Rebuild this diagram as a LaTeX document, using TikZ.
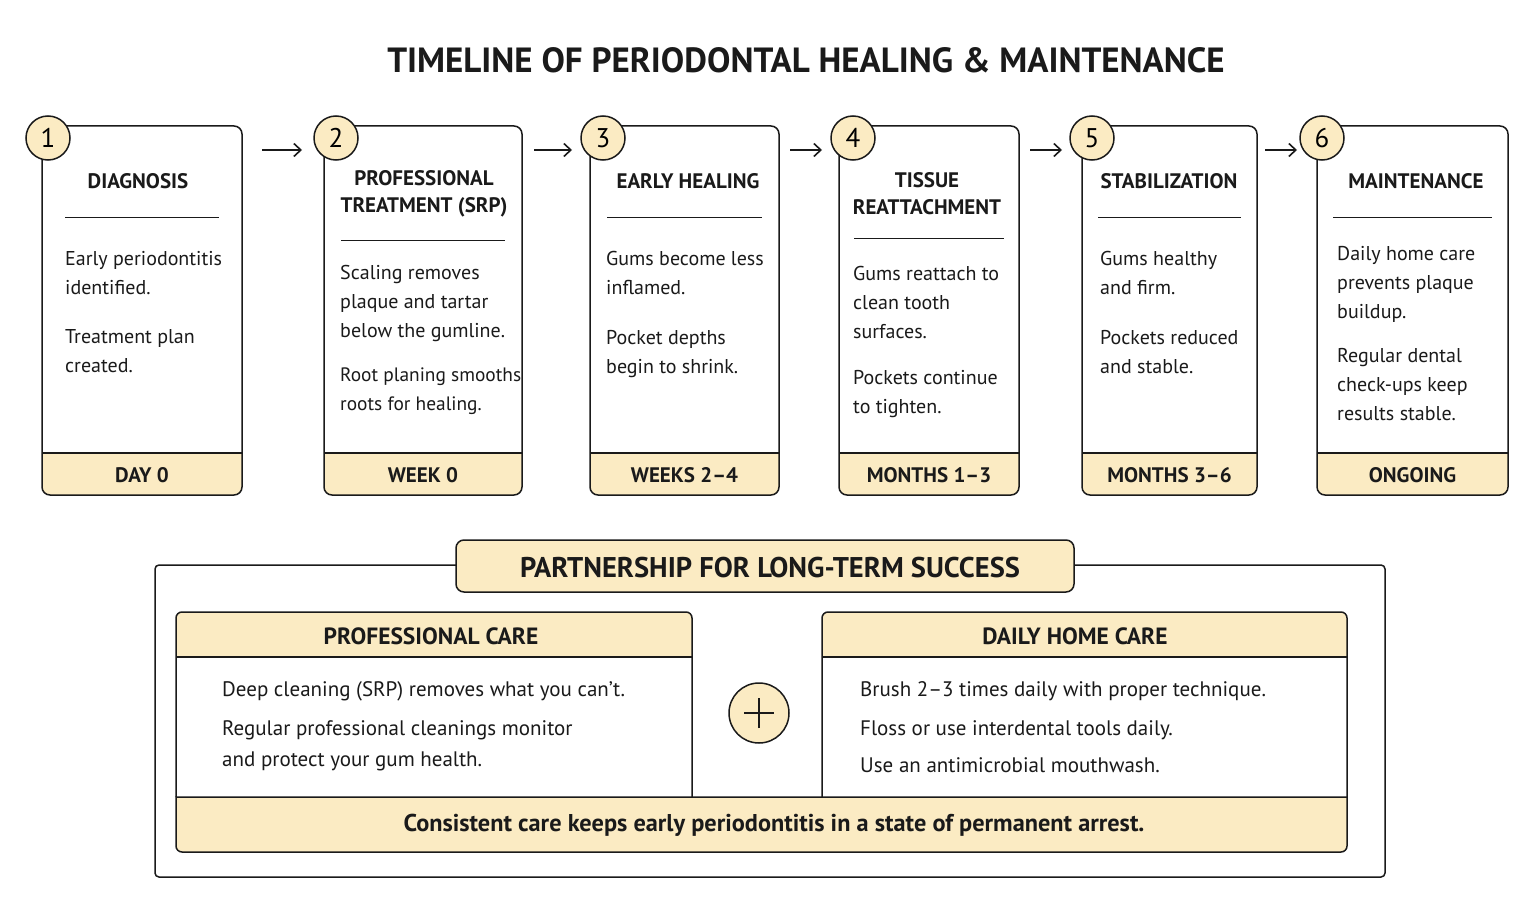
\documentclass[tikz,border=0pt]{standalone}
\usepackage{fontspec}
\usetikzlibrary{arrows.meta}
\setmainfont{PT Sans}
\definecolor{cream}{HTML}{FBEBC3}
\definecolor{ink}{HTML}{1A1A1A}
\begin{document}
\begin{tikzpicture}[x=1pt,y=-1pt,
  box/.style={draw=ink,line width=1.5pt,rounded corners=8},
  hdr/.style={font=\fontsize{21}{27}\selectfont\bfseries,align=center,text=ink},
  phdr/.style={font=\fontsize{23.5}{27}\selectfont\bfseries,text=ink},
  body/.style={font=\fontsize{20}{29}\selectfont,align=left,anchor=north west,text=ink,inner sep=0},
  bbody/.style={font=\fontsize{21}{31}\selectfont,align=left,anchor=north west,text=ink,inner sep=0},
  foot/.style={font=\fontsize{21}{24}\selectfont\bfseries,text=ink},
  num/.style={circle,draw=ink,line width=1.5pt,fill=cream,minimum size=44pt,inner sep=0,font=\fontsize{27}{27}\selectfont},
  arr/.style={-{Straight Barb[length=7pt,width=13pt]},line width=1.6pt,draw=ink}]
\useasboundingbox (0,0) rectangle (1536,923);
\fill[white] (0,0) rectangle (1536,923);
\node[font=\fontsize{35}{38}\selectfont\bfseries,text=ink] (title) at (806,60) {TIMELINE OF PERIODONTAL HEALING \& MAINTENANCE};
\newcommand\mystep[6]{%
  \fill[cream] (#2,453) -- (#3,453) {[rounded corners=8] -- (#3,495) -- (#2,495)} -- cycle;
  \draw[ink,line width=1.5pt] (#2,453) -- (#3,453);
  \draw[box] (#2,126) rectangle (#3,495);
  \node[foot] (#1f) at ({(#2+#3)/2},475) {#4};
  \draw[ink,line width=0.6pt] ({#2+#6},#5) -- ({#3-#6},#5);
}
\mystep{s1}{42}{242}{DAY 0}{217}{23}
\mystep{s2}{324}{522}{WEEK 0}{240}{17}
\mystep{s3}{590}{779}{WEEKS 2–4}{217}{17}
\mystep{s4}{839}{1019}{MONTHS 1–3}{238}{15}
\mystep{s5}{1082}{1257}{MONTHS 3–6}{217}{16}
\mystep{s6}{1317}{1508}{ONGOING}{217}{16}
\node[hdr] (h1) at (138,181) {DIAGNOSIS};
\node[hdr] (h2) at (424,194) {PROFESSIONAL\\TREATMENT (SRP)};
\node[hdr] (h3) at (688,181) {EARLY HEALING};
\node[hdr] (h4) at (927,194) {TISSUE\\REATTACHMENT};
\node[hdr] (h5) at (1169,181) {STABILIZATION};
\node[hdr] (h6) at (1416,181) {MAINTENANCE};
\node[num] (n1) at (48,138) {1};
\node[num] (n2) at (336,138) {2};
\node[num] (n3) at (603,138) {3};
\node[num] (n4) at (853,138) {4};
\node[num] (n5) at (1092,138) {5};
\node[num] (n6) at (1322,138) {6};
\coordinate (a1) at (262,150); \coordinate (b1) at (302,150);
\coordinate (a2) at (534,150); \coordinate (b2) at (572,150);
\coordinate (a3) at (790,150); \coordinate (b3) at (822,150);
\coordinate (a4) at (1030,150); \coordinate (b4) at (1062,150);
\coordinate (a5) at (1265,150); \coordinate (b5) at (1297,150);
\foreach \i in {1,...,5} \draw[arr] (a\i) -- (b\i);
\node[body] (t1a) at (65,251) {Early periodontitis\\identified.};
\node[body] (t1b) at (65,329) {Treatment plan\\created.};
\node[body] (t2a) at (340,265) {Scaling removes\\plaque and tartar\\below the gumline.};
\node[body,font=\fontsize{19.4}{29}\selectfont] (t2b) at (340,368) {Root planing smooths\\roots for healing.};
\node[body] (t3a) at (606,251) {Gums become less\\inflamed.};
\node[body] (t3b) at (606,330) {Pocket depths\\begin to shrink.};
\node[body] (t4a) at (853,266) {Gums reattach to\\clean tooth\\surfaces.};
\node[body] (t4b) at (853,370) {Pockets continue\\to tighten.};
\node[body] (t5a) at (1100,251) {Gums healthy\\and firm.};
\node[body] (t5b) at (1100,330) {Pockets reduced\\and stable.};
\node[body] (t6a) at (1337,246) {Daily home care\\prevents plaque\\buildup.};
\node[body] (t6b) at (1337,348) {Regular dental\\check-ups keep\\results stable.};
% bottom
\draw[ink,line width=1.5pt,rounded corners=4] (155,565) rectangle (1385,877);
\draw[box,fill=cream] (456,540) rectangle (1074,592);
\node[font=\fontsize{28.5}{30}\selectfont\bfseries,text=ink] (pt) at (770,568) {PARTNERSHIP FOR LONG-TERM SUCCESS};
\fill[cream] (176,797) -- (1347,797) {[rounded corners=6] -- (1347,852) -- (176,852)} -- cycle;
\fill[cream] (176,657) {[rounded corners=6] -- (176,612) -- (692,612)} -- (692,657) -- cycle;
\fill[cream] (822,657) {[rounded corners=6] -- (822,612) -- (1347,612)} -- (1347,657) -- cycle;
\draw[ink,line width=1.5pt] (176,797) {[rounded corners=6] -- (176,612) -- (692,612)} -- (692,797);
\draw[ink,line width=1.5pt] (822,797) {[rounded corners=6] -- (822,612) -- (1347,612)} -- (1347,797);
\draw[ink,line width=1.5pt] (176,797) {[rounded corners=6] -- (176,852) -- (1347,852)} -- (1347,797) -- cycle;
\draw[ink,line width=1.5pt] (176,657) -- (692,657);
\draw[ink,line width=1.5pt] (822,657) -- (1347,657);
\node[phdr] (pc) at (431,636) {PROFESSIONAL CARE};
\node[phdr] (hc) at (1075,636) {DAILY HOME CARE};
\node[bbody] (l1) at (222,681) {Deep cleaning (SRP) removes what you can’t.};
\node[bbody] (l2) at (222,720) {Regular professional cleanings monitor\\and protect your gum health.};
\node[bbody] (r1) at (860,681) {Brush 2–3 times daily with proper technique.};
\node[bbody] (r2) at (860,720) {Floss or use interdental tools daily.};
\node[bbody] (r3) at (860,757) {Use an antimicrobial mouthwash.};
\node[circle,draw=ink,line width=1.5pt,fill=cream,minimum size=60pt,inner sep=0] (plus) at (759,713) {};
\draw[ink,line width=2.5pt] ([xshift=-15pt]plus.center) -- ([xshift=15pt]plus.center);
\draw[ink,line width=2.5pt] ([yshift=-15pt]plus.center) -- ([yshift=15pt]plus.center);
\node[font=\fontsize{24.3}{26}\selectfont\bfseries,text=ink] (bot) at (774,825) {Consistent care keeps early periodontitis in a state of permanent arrest.};
\end{tikzpicture}
\end{document}
